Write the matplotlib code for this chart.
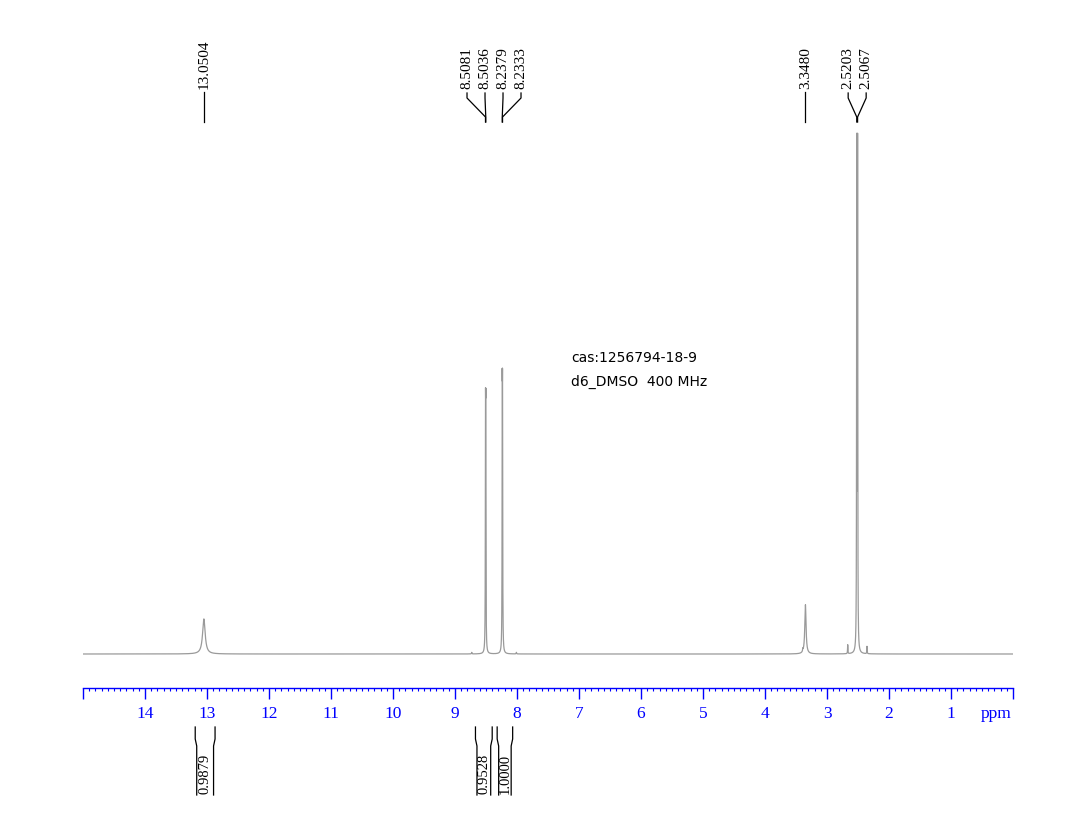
import numpy as np
import matplotlib.pyplot as plt
from matplotlib.transforms import blended_transform_factory

# peaks of the 1H spectrum: shift (ppm), relative height, half width (ppm)
shifts = [13.0504, 8.5081, 8.5036, 8.2379, 8.2333, 3.3480, 2.5203, 2.5067,
          8.73, 8.01, 3.39, 2.666, 2.355]
heights = [6.7, 38.1, 38.1, 41.3, 41.3, 9.4, 95.5, 95.5,
           0.3, 0.3, 0.5, 1.7, 1.4]
widths = [0.025, 0.003, 0.003, 0.003, 0.003, 0.012, 0.003, 0.003,
          0.004, 0.004, 0.004, 0.003, 0.003]

# picked peak labels, grouped the way they are drawn
label_groups = [[13.0504], [8.5081, 8.5036, 8.2379, 8.2333], [3.3480], [2.5203, 2.5067]]

# integrals: (from, to) ppm and value
integral_ranges = [(13.19, 12.87), (8.67, 8.40), (8.32, 8.07)]
integral_values = ["0.9879", "0.9528", "1.0000"]

ppm_ticks = list(range(1, 15))

W, H = 1069, 835
fig = plt.figure(figsize=(W / 100, H / 100), dpi=100)

# axes: x from 15 to 0 ppm between px 83 and 1013, bottom spine at px 688
ax = fig.add_axes([83 / W, (H - 688) / H, 930 / W, (688 - 20) / H])
px_per_unit = 5.24  # baseline at px 654, tallest peak at px 130
ax.set_xlim(15, 0)
ax.set_ylim(-(688 - 654) / px_per_unit, (654 - 20) / px_per_unit)

x = np.arange(15.0, -0.0005, -0.0005)
y = np.zeros_like(x)
for s, h, w in zip(shifts, heights, widths):
    y += h / (1 + ((x - s) / w) ** 2)
ax.plot(x, y, color="#9a9a9a", lw=0.9)

for side in ["top", "left", "right"]:
    ax.spines[side].set_visible(False)
ax.spines["bottom"].set_color("blue")
ax.spines["bottom"].set_linewidth(1.0)
ax.set_yticks([])
ax.set_xticks([15] + ppm_ticks + [0])
ax.set_xticklabels([""] + [str(t) for t in ppm_ticks] + [""],
                   family="Liberation Serif", fontsize=12.5, color="blue")
ax.set_xticks(np.arange(0, 15.01, 0.1), minor=True)
ax.tick_params(axis="x", which="major", length=8, width=1, color="blue", pad=5)
ax.tick_params(axis="x", which="minor", length=2.5, width=0.8, color="blue")

# x in ppm, y in figure pixels from the top
trans = blended_transform_factory(ax.transData, fig.transFigure)
ppm_per_px = 15 / 930


def fy(py):
    return 1 - py / H


ax.text(0.27, fy(714), "ppm", transform=trans, fontsize=12.5, family="Liberation Serif",
        color="blue", ha="center", va="center")

# peak labels
spacing = 18 * ppm_per_px
for group in label_groups:
    center = np.mean(group)
    n = len(group)
    for i, s in enumerate(group):
        tx = center + (n - 1) / 2 * spacing - i * spacing
        ax.text(tx, fy(89), f"{s:.4f}", transform=trans, rotation=90, ha="center", va="bottom",
                family="Liberation Serif", fontsize=11)
        if n == 1:
            ax.plot([s, s], [fy(92), fy(122)], transform=trans, color="black", lw=0.9)
        else:
            ax.plot([tx, tx, s, s], [fy(93), fy(98), fy(117), fy(122)], transform=trans,
                    color="black", lw=0.9)

# integral brackets
inset = 1.5 * ppm_per_px
for (a, b), val in zip(integral_ranges, integral_values):
    ax.plot([a, a, a - inset, a - inset], [fy(727), fy(739), fy(746), fy(795)],
            transform=trans, color="black", lw=0.9, clip_on=False)
    ax.plot([b, b, b + inset, b + inset], [fy(727), fy(739), fy(746), fy(795)],
            transform=trans, color="black", lw=0.9, clip_on=False)
    ax.text((a + b) / 2, fy(794), val, transform=trans, rotation=90, ha="center", va="bottom",
            family="Liberation Serif", fontsize=10.5)

fig.text(571 / W, fy(362), "cas:1256794-18-9", fontsize=10, family="DejaVu Sans", va="baseline")
fig.text(571 / W, fy(386), "d6_DMSO  400 MHz", fontsize=10, family="DejaVu Sans", va="baseline")

fig.savefig("out.png", dpi=100)
